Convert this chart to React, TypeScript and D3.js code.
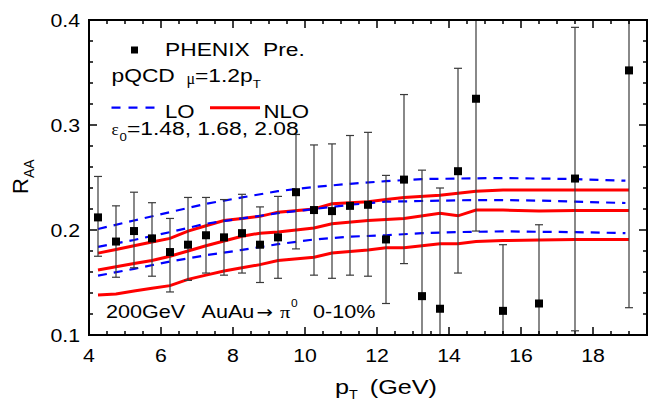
import React from "react";
import * as d3 from "d3";

const X_TICKS = [4, 6, 8, 10, 12, 14, 16, 18];
const Y_TICKS = [0.1, 0.2, 0.3, 0.4];

const PT = [4.25, 4.75, 5.25, 5.75, 6.25, 6.75, 7.25, 7.75, 8.25, 8.75, 9.25, 9.75, 10.25, 10.75, 11.25, 11.75, 12.25, 12.75, 13.25, 13.75, 14.25, 14.75, 15.5, 16.5, 17.5, 19];
const RAA = [0.212, 0.189, 0.199, 0.192, 0.179, 0.186, 0.195, 0.193, 0.197, 0.186, 0.193, 0.236, 0.219, 0.218, 0.223, 0.224, 0.191, 0.248, 0.137, 0.125, 0.256, 0.325, 0.123, 0.130, 0.249, 0.352];
const RAA_HI = [0.251, 0.223, 0.236, 0.226, 0.211, 0.231, 0.231, 0.229, 0.234, 0.222, 0.232, 0.291, 0.281, 0.282, 0.290, 0.293, 0.252, 0.329, 0.257, 0.240, 0.354, 0.451, 0.186, 0.205, 0.393, 0.578];
const RAA_LO = [0.175, 0.155, 0.164, 0.156, 0.141, 0.152, 0.159, 0.157, 0.159, 0.150, 0.154, 0.182, 0.157, 0.154, 0.157, 0.156, 0.130, 0.168, 0.017, 0.010, 0.159, 0.199, 0.060, 0.055, 0.104, 0.126];

const NLO_X = [4.25, 4.75, 5.25, 5.75, 6.25, 6.75, 7.25, 7.75, 8.25, 8.75, 9.25, 10.25, 10.75, 11.75, 12.25, 12.75, 13.75, 14.25, 14.75, 15.5, 16.5, 17.5, 19];
const NLO_148 = [0.178, 0.1815, 0.185, 0.1885, 0.192, 0.199, 0.204, 0.209, 0.211, 0.213, 0.217, 0.220, 0.225, 0.227, 0.229, 0.231, 0.233, 0.235, 0.237, 0.238, 0.238, 0.238, 0.238];
const NLO_168 = [0.162, 0.165, 0.168, 0.171, 0.175, 0.180, 0.185, 0.1895, 0.194, 0.197, 0.198, 0.202, 0.206, 0.209, 0.210, 0.211, 0.216, 0.2135, 0.219, 0.219, 0.218, 0.2185, 0.2185];
const NLO_208 = [0.138, 0.139, 0.142, 0.1445, 0.147, 0.153, 0.157, 0.161, 0.164, 0.167, 0.171, 0.174, 0.178, 0.181, 0.183, 0.183, 0.187, 0.187, 0.189, 0.190, 0.1905, 0.191, 0.191];

const LO_X = [4.25, 5.25, 6.25, 7.25, 8.25, 9.25, 10.25, 11.25, 12.25, 13.25, 14.25, 15.5, 16.5, 17.5, 18.9];
const LO_148 = [0.201, 0.209, 0.217, 0.225, 0.231, 0.237, 0.241, 0.244, 0.2465, 0.2485, 0.249, 0.2495, 0.249, 0.2485, 0.247];
const LO_168 = [0.184, 0.1905, 0.198, 0.206, 0.211, 0.216, 0.220, 0.224, 0.227, 0.2276, 0.2283, 0.2285, 0.228, 0.227, 0.2257];
const LO_208 = [0.1565, 0.163, 0.170, 0.176, 0.181, 0.1865, 0.191, 0.1937, 0.195, 0.197, 0.198, 0.1987, 0.1983, 0.198, 0.197];

const W = 655, H = 401;
const L = 89, R = 647, T = 20, B = 335;
const FONT = "'Liberation Sans', Arial, Helvetica, sans-serif";
const SERIF = "'Liberation Serif', 'Times New Roman', serif";
const SX = 1.2;

const St = ({ x, y, sx = SX, children, anchor = "start", size = 19, family = FONT }: any) => (
  <g transform={`translate(${x},${y}) scale(${sx},1)`}>
    <text x={0} y={0} fontFamily={family} fontSize={size} textAnchor={anchor} fill="#000">
      {children}
    </text>
  </g>
);

export default function App() {
  const x = d3.scaleLinear().domain([4, 19.5]).range([L, R]);
  const y = d3.scaleLinear().domain([0.1, 0.4]).range([B, T]);
  const line = d3.line<[number, number]>().x((d) => x(d[0])).y((d) => y(d[1]));
  const mk = (xs: number[], ys: number[]) => line(xs.map((v, i) => [v, ys[i]] as [number, number])) || "";

  const xMinor = d3.range(4, 19.5 + 1e-9, 0.5);
  const yMinor = d3.range(0.1, 0.4 + 1e-9, 0.02);
  const isMajorX = (v: number) => X_TICKS.some((t) => Math.abs(t - v) < 1e-6);
  const isMajorY = (v: number) => Y_TICKS.some((t) => Math.abs(t - v) < 1e-6);

  const nlo = [NLO_148, NLO_168, NLO_208];
  const lo = [LO_148, LO_168, LO_208];

  return (
    <svg width={W} height={H} style={{ position: "absolute", left: 0, top: 0, background: "#fff" }}>
      <defs>
        <clipPath id="plot">
          <rect x={L} y={T} width={R - L} height={B - T} />
        </clipPath>
      </defs>
      <rect x={0} y={0} width={W} height={H} fill="#fff" />

      <g clipPath="url(#plot)">
        {nlo.map((ys, i) => (
          <path key={"n" + i} d={mk(NLO_X, ys)} fill="none" stroke="#ff0000" strokeWidth={3} />
        ))}
        {lo.map((ys, i) => (
          <path key={"l" + i} d={mk(LO_X, ys)} fill="none" stroke="#0000ff" strokeWidth={2.2} strokeDasharray="9,7" />
        ))}
        {PT.map((p, i) => (
          <g key={"e" + i} stroke="#3a3a3a" strokeWidth={1.2}>
            <line x1={x(p)} x2={x(p)} y1={y(RAA_HI[i])} y2={y(RAA_LO[i])} />
            <line x1={x(p) - 4} x2={x(p) + 4} y1={y(RAA_HI[i])} y2={y(RAA_HI[i])} />
            <line x1={x(p) - 4} x2={x(p) + 4} y1={y(RAA_LO[i])} y2={y(RAA_LO[i])} />
          </g>
        ))}
        {PT.map((p, i) => (
          <rect key={"p" + i} x={x(p) - 4} y={y(RAA[i]) - 4} width={8} height={8} fill="#000" />
        ))}
      </g>

      {/* frame */}
      <rect x={L} y={T} width={R - L} height={B - T} fill="none" stroke="#000" strokeWidth={2} />
      {xMinor.map((v, i) => {
        const len = isMajorX(v) ? 8 : 4;
        return (
          <g key={"xt" + i} stroke="#000" strokeWidth={1.5}>
            <line x1={x(v)} x2={x(v)} y1={B} y2={B - len} />
            <line x1={x(v)} x2={x(v)} y1={T} y2={T + len} />
          </g>
        );
      })}
      {yMinor.map((v, i) => {
        const len = isMajorY(v) ? 8 : 4;
        return (
          <g key={"yt" + i} stroke="#000" strokeWidth={1.5}>
            <line x1={L} x2={L + len} y1={y(v)} y2={y(v)} />
            <line x1={R} x2={R - len} y1={y(v)} y2={y(v)} />
          </g>
        );
      })}
      {X_TICKS.map((t) => (
        <St key={"xl" + t} x={x(t)} y={362} anchor="middle" size={18.5} sx={1.15}>
          {t}
        </St>
      ))}
      {Y_TICKS.map((t) => (
        <St key={"yl" + t} x={80} y={y(t) + 6.5} anchor="end" size={18.5} sx={1.15}>
          {t.toFixed(1)}
        </St>
      ))}

      {/* axis titles */}
      <text transform="translate(28,194) rotate(-90)" fontFamily={FONT} fontSize={22}>
        R<tspan fontSize={14} dy={6}>AA</tspan>
      </text>
      <g transform={`translate(335,394) scale(${SX},1)`}>
        <text fontFamily={FONT} fontSize={21}>
          p<tspan fontSize={12} dy={5}>T</tspan>
          <tspan dy={-5} dx={10}>(GeV)</tspan>
        </text>
      </g>

      {/* legend */}
      <rect x={131} y={46.5} width={7} height={7} fill="#000" />
      <St x={165} y={55.7}>PHENIX</St>
      <St x={263} y={55.7}>Pre.</St>

      <St x={111.5} y={81.7}>pQCD</St>
      <St x={186.5} y={84} size={16} sx={1.0} family={SERIF}>μ</St>
      <g transform={`translate(195,81.7) scale(${SX},1)`}>
        <text fontFamily={FONT} fontSize={19}>
          =1.2p<tspan fontSize={11} dy={6}>T</tspan>
        </text>
      </g>

      <line x1={111.5} x2={157} y1={107.7} y2={107.7} stroke="#0000ff" strokeWidth={2.2} strokeDasharray="9,8" />
      <St x={165} y={117.7} size={18.5}>LO</St>
      <line x1={210} x2={260} y1={107.7} y2={107.7} stroke="#ff0000" strokeWidth={3} />
      <St x={263.5} y={117.7} size={18.5}>NLO</St>

      <St x={111.5} y={135} size={17} sx={1.0} family={SERIF}>ε</St>
      <St x={119.5} y={141} size={11}>0</St>
      <St x={127} y={135}>=1.48, 1.68, 2.08</St>

      <St x={106} y={318.3} size={18}>200GeV</St>
      <St x={201.5} y={318.3} size={18}>AuAu</St>
      <St x={256.5} y={318.3} size={17} sx={1.15} family="'DejaVu Sans', sans-serif">→</St>
      <St x={280} y={318.3} size={17} family={SERIF}>π</St>
      <St x={291} y={307} size={10}>0</St>
      <St x={313} y={318.3} size={18}>0-10%</St>
    </svg>
  );
}
